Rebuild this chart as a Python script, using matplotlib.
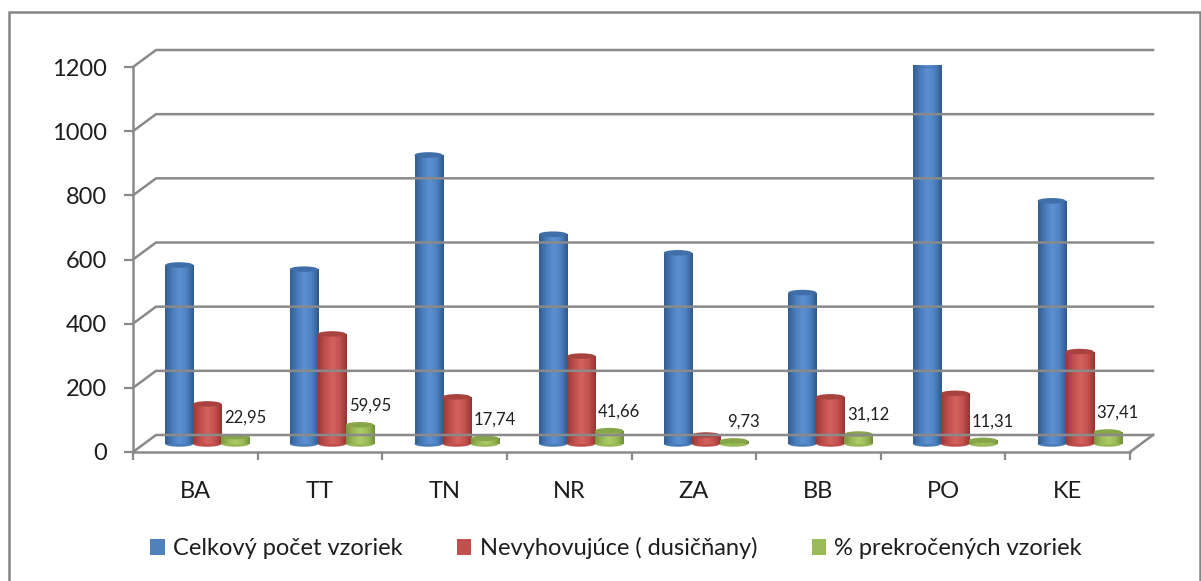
import numpy as np
import matplotlib
matplotlib.use("Agg")
import matplotlib.pyplot as plt
from matplotlib.patches import Ellipse, Rectangle, Patch
from matplotlib.lines import Line2D
from matplotlib.transforms import offset_copy, IdentityTransform
from matplotlib.colors import LinearSegmentedColormap

# ---------------- data ----------------
categories = ['BA', 'TT', 'TN', 'NR', 'ZA', 'BB', 'PO', 'KE']
celkovy = [558, 545, 901, 654, 596, 472, 1181, 758]
nevyhovujuce = [125, 343, 147, 274, 28, 147, 158, 288]
percento = [22.95, 59.95, 17.74, 41.66, 9.73, 31.12, 11.31, 37.41]
series_names = ['Celkový počet vzoriek', 'Nevyhovujúce ( dusičňany)', '% prekročených vzoriek']
yticks = [0, 200, 400, 600, 800, 1000, 1200]

# ---------------- style ----------------
plt.rcParams['font.family'] = ['Lato', 'DejaVu Sans']
W, H = 1201, 581
DPI = 100
fig = plt.figure(figsize=(W / DPI, H / DPI), dpi=DPI)
fig.patch.set_facecolor('white')

GRID = '#8a8a8a'
TXT = '#1e1e1e'
FS = 17
base_cols = ['#4F81BD', '#C0504D', '#9BBB59']
grads = [
    ['#325d92', '#4a7cba', '#5c90d2', '#4f82c2', '#30598c'],
    ['#9c3936', '#bf4f4c', '#d4625f', '#c4534f', '#953532'],
    ['#7a973f', '#98b957', '#accd67', '#9cbc58', '#72903a'],
]
top_cols = ['#3f6ea8', '#a8423f', '#86a64a']

# front plane axes
x_left, x_right = 133, 1130
y_zero, y_top = 452, 67
ax = fig.add_axes([x_left / W, (H - y_zero) / H, (x_right - x_left) / W, (y_zero - y_top) / H])
ax.set_facecolor('none')
n = len(categories)
ax.set_xlim(-0.5, n - 0.5)
ax.set_ylim(0, 1200)

for s in ['top', 'right']:
    ax.spines[s].set_visible(False)
for s in ['left', 'bottom']:
    ax.spines[s].set_color(GRID)
    ax.spines[s].set_linewidth(1.8)
    ax.spines[s].set_zorder(2)

ax.set_yticks(yticks)
ax.set_yticklabels([str(v) for v in yticks], fontsize=FS, color=TXT)
ax.tick_params(axis='y', direction='out', length=6.5, width=1.6, color=GRID, pad=12)
ax.set_xticks(np.arange(-0.5, n, 1.0))
ax.set_xticklabels([])
ax.tick_params(axis='x', which='major', direction='out', length=6, width=1.6, color=GRID)
ax.set_xticks(np.arange(n), minor=True)
ax.set_xticklabels(categories, minor=True, fontsize=FS, color=TXT)
ax.tick_params(axis='x', which='minor', length=0, pad=21)

# back wall gridlines (perspective offset)
DX_BACK, DY_BACK = 23, 17
for v in yticks:
    p0 = ax.transData.transform((-0.5, v))
    p1 = p0 + np.array([DX_BACK, DY_BACK])
    p2 = ax.transData.transform((n - 0.5, v)) + np.array([DX_BACK, DY_BACK])
    ln = Line2D([p0[0], p1[0], p2[0]], [p0[1], p1[1], p2[1]], transform=IdentityTransform(),
                color=GRID, lw=1.8, zorder=1)
    fig.add_artist(ln)
# right floor edge
q0 = ax.transData.transform((n - 0.5, 0))
q1 = q0 + np.array([DX_BACK, DY_BACK])
fig.add_artist(Line2D([q0[0], q1[0]], [q0[1], q1[1]], transform=IdentityTransform(),
                      color=GRID, lw=1.8, zorder=1))

# bars at mid depth
bar_tr = offset_copy(ax.transData, fig=fig, x=12, y=8, units='dots')
w = 0.225
offsets = [-w, 0.0, w]
series = [celkovy, nevyhovujuce, percento]
px_per_unit = (y_zero - y_top) / 1200.0
ell_h = 5.5 / px_per_unit

for k, (vals, off) in enumerate(zip(series, offsets)):
    x = np.arange(n) + off
    bc = ax.bar(x, vals, width=w, color=base_cols[k], transform=bar_tr, zorder=3,
                linewidth=0, label=series_names[k])
    cmap = LinearSegmentedColormap.from_list('g%d' % k, grads[k])
    grad = np.linspace(0, 1, 64).reshape(1, -1)
    for p in bc.patches:
        x0, bw, hgt = p.get_x(), p.get_width(), p.get_height()
        img = ax.imshow(grad, cmap=cmap, aspect='auto', extent=[x0, x0 + bw, 0, hgt],
                        interpolation='bilinear', zorder=3.1)
        img.set_transform(bar_tr)
        img.set_clip_path(p)
        eb = Ellipse((x0 + bw / 2, 0), bw, ell_h, facecolor=grads[k][1], edgecolor='none',
                     transform=bar_tr, zorder=2.9)
        ax.add_patch(eb)
        et = Ellipse((x0 + bw / 2, hgt), bw, ell_h, facecolor=top_cols[k], edgecolor='none',
                     transform=bar_tr, zorder=3.3)
        ax.add_patch(et)

ax.set_xlim(-0.5, n - 0.5)
ax.set_ylim(0, 1200)

# data labels for percentage series
for i, v in enumerate(percento):
    ax.annotate(f"{v:.2f}".replace('.', ','), xy=(i + w, v), xycoords='data',
                xytext=(22 * 0.72, 27 * 0.72), textcoords='offset points',
                ha='center', va='center', fontsize=12, color=TXT, zorder=6)

# legend
handles = [Patch(facecolor=c, edgecolor='none') for c in base_cols]
fig.legend(handles, series_names, loc='center', bbox_to_anchor=(616 / W, (H - 548) / H),
           ncol=3, frameon=False, fontsize=FS, handlelength=0.62, handleheight=0.65,
           handletextpad=0.35, columnspacing=2.3, labelcolor=TXT)

# chart frame
fig.add_artist(Rectangle((9 / W, -0.1), (1200 - 9) / W, (H - 12) / H + 0.1,
                         transform=fig.transFigure, fill=False, edgecolor='#868686', lw=1.8))

fig.savefig('out.png', dpi=DPI)
